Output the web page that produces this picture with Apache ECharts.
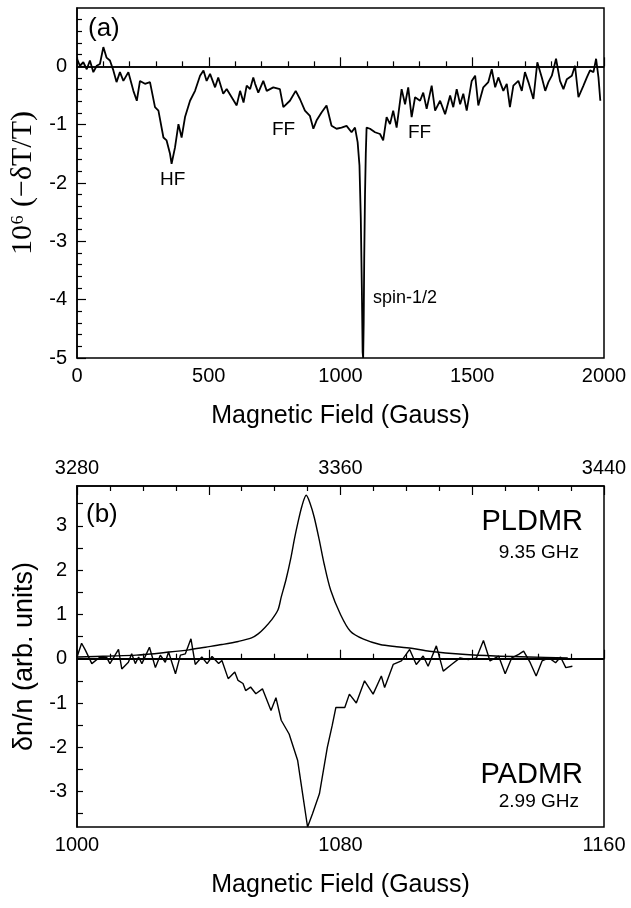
<!DOCTYPE html>
<html><head><meta charset="utf-8">
<script src="https://cdn.jsdelivr.net/npm/echarts@6/dist/echarts.min.js"></script>
<style>html,body{margin:0;padding:0;background:#fff}#c{width:631px;height:908px}</style>
</head><body><div id="c"></div>
<script>
// Panel (a): microwave-induced transmission change vs field
const fieldA = [0,11,24,37,49,62,75,87,100,112,125,138,150,163,176,195,214,227,239,258,277,296,309,328,340,353,359,372,385,397,410,429,448,467,480,492,505,524,536,555,568,587,606,619,632,644,657,669,676,688,707,720,745,770,783,808,830,846,865,884,897,909,928,947,966,985,1004,1023,1042,1055,1065,1072,1077,1081,1084,1086,1088,1090,1093,1096,1099,1112,1131,1150,1162,1175,1188,1200,1213,1232,1245,1257,1270,1283,1302,1314,1327,1346,1359,1378,1397,1416,1428,1441,1454,1466,1479,1498,1511,1523,1542,1561,1574,1587,1599,1618,1631,1643,1656,1675,1688,1700,1713,1732,1747,1764,1777,1789,1802,1818,1833,1846,1859,1878,1890,1903,1922,1935,1947,1960,1970,1979,1986];
const signalA = [0.13,0.01,0.07,-0.05,0.10,-0.10,0.01,0.04,0.33,0.15,0.10,-0.07,-0.27,-0.10,-0.25,-0.10,-0.42,-0.59,-0.25,-0.30,-0.27,-0.70,-0.76,-1.22,-1.27,-1.50,-1.67,-1.39,-0.99,-1.22,-0.87,-0.59,-0.42,-0.16,-0.07,-0.25,-0.13,-0.36,-0.19,-0.47,-0.39,-0.53,-0.67,-0.42,-0.62,-0.33,-0.39,-0.19,-0.30,-0.45,-0.25,-0.42,-0.36,-0.39,-0.70,-0.59,-0.42,-0.56,-0.76,-0.85,-1.07,-0.93,-0.79,-0.67,-1.02,-1.07,-1.05,-1.02,-1.13,-1.05,-1.30,-1.70,-2.60,-3.80,-4.90,-5.00,-4.40,-3.30,-2.20,-1.50,-1.05,-1.07,-1.13,-1.16,-1.27,-0.87,-0.99,-0.76,-1.05,-0.39,-0.65,-0.36,-0.87,-0.53,-0.59,-0.45,-0.73,-0.33,-0.76,-0.59,-0.82,-0.50,-0.70,-0.39,-0.65,-0.47,-0.76,-0.25,-0.16,-0.67,-0.36,-0.27,-0.05,-0.36,-0.19,-0.42,-0.30,-0.70,-0.33,-0.25,-0.42,-0.10,-0.27,-0.56,0.07,-0.19,-0.42,-0.27,-0.16,0.13,-0.25,-0.39,-0.22,-0.16,0.01,-0.53,-0.33,-0.19,-0.07,-0.10,0.13,-0.19,-0.59];

// Panel (b): PLDMR (9.35 GHz) and PADMR (2.99 GHz)
const fieldPL = [1000,1010,1018,1028,1034,1039,1044,1049,1053,1055,1057,1059,1061,1062,1063.5,1065,1066,1067,1068.3,1069.6,1070.8,1072,1073.5,1075,1077,1080,1083,1087,1092,1097,1102,1107,1117,1127,1137,1149];
const valuePL = [0.04,0.06,0.08,0.15,0.20,0.26,0.32,0.39,0.47,0.56,0.70,0.87,1.10,1.39,1.80,2.30,2.70,3.05,3.45,3.69,3.50,3.20,2.70,2.15,1.55,1.00,0.62,0.44,0.32,0.27,0.23,0.17,0.10,0.06,0.04,0.02];
const fieldPA = [1000,1001.4,1002.5,1004.5,1007,1009,1010,1012.6,1013.6,1015.6,1016.6,1017.7,1018.7,1019.7,1022,1023.8,1025.3,1026.8,1027.8,1029.9,1031.4,1032.9,1034.6,1035.9,1037.9,1039.5,1041,1043,1044,1045.9,1047.9,1048.9,1050.4,1051.2,1052.7,1054.3,1056.3,1058.9,1060.4,1062,1064.4,1067,1068.5,1070,1071.5,1073.6,1076,1077.5,1078.6,1081.3,1082.7,1084.8,1087.3,1089.9,1092.4,1093.4,1096,1098.5,1101,1103,1105.1,1106.6,1109.1,1111.2,1113.7,1116.3,1118.8,1121.3,1123.4,1125.4,1128,1130,1132,1134.1,1135.6,1137.6,1139.4,1141.2,1143.3,1145.3,1146.8,1148.4,1150.4];
const valuePA = [0.04,0.35,0.20,-0.11,0.04,0.03,-0.11,0.21,-0.23,-0.08,0.11,-0.11,0.04,-0.11,0.26,-0.20,0.08,-0.08,0.15,-0.34,0.08,0.11,0.45,-0.13,0.04,-0.11,0.05,-0.11,-0.04,-0.45,-0.30,-0.49,-0.56,-0.72,-0.64,-0.79,-0.68,-1.17,-0.88,-1.39,-1.70,-2.30,-3.05,-3.80,-3.50,-3.05,-2.00,-1.50,-1.10,-1.10,-0.80,-1.00,-0.50,-0.80,-0.39,-0.65,-0.13,-0.05,0.21,-0.13,0.06,-0.17,0.29,-0.28,-0.13,0.02,-0.02,0.02,0.41,-0.05,0.06,-0.34,0.02,0.10,0.17,-0.09,-0.39,-0.05,0.02,-0.09,0.04,-0.20,-0.17];

const yTicksA = [0,-1,-2,-3,-4,-5];
const xLabelsB = [1000,1080,1160];
const xLabelsTop = [3280,3360,3440];
const yLabelsB = [-3,-2,-1,0,1,2,3];
const yTicksB = [-3.5,-3,-2.5,-2,-1.5,-1,-0.5,0,0.5,1,1.5,2,2.5,3,3.5];

const zip = (a,b)=>a.map((v,i)=>[v,b[i]]);
const SANS = 'Liberation Sans, Arial, sans-serif';
const K = '#000';
const plain = v => String(v);
const lbl = {color:K, fontFamily:SANS, fontSize:20, formatter:plain};
const axLine = {show:true, lineStyle:{color:K, width:1.5}};
const tick = (len)=>({inside:true, length:len, lineStyle:{color:K, width:1.2}});

const chart = echarts.init(document.getElementById('c'), null, {renderer:'canvas'});
chart.setOption({
  animation:false,
  backgroundColor:'#fff',
  grid:[
    {left:77, top:8, width:527, height:350, show:true, borderColor:K, borderWidth:1.5},
    {left:77, top:486, width:527, height:341, show:true, borderColor:K, borderWidth:1.5}
  ],
  xAxis:[
    {gridIndex:0, type:'value', min:0, max:2000, interval:500,
     axisLine:axLine, splitLine:{show:false}, axisTick:tick(9),
     minorTick:{show:true, splitNumber:5, length:5, lineStyle:{color:K, width:1.2}},
     axisLabel:Object.assign({}, lbl, {margin:8}),
     name:'Magnetic Field (Gauss)', nameLocation:'middle', nameGap:46,
     nameTextStyle:{color:K, fontFamily:SANS, fontSize:25}},
    {gridIndex:1, type:'value', min:1000, max:1160, interval:40, position:'bottom',
     axisLine:axLine, splitLine:{show:false}, axisTick:tick(9),
     minorTick:{show:true, splitNumber:4, length:5, lineStyle:{color:K, width:1.2}},
     axisLabel:Object.assign({}, lbl, {margin:8, customValues:xLabelsB}),
     name:'Magnetic Field (Gauss)', nameLocation:'middle', nameGap:46,
     nameTextStyle:{color:K, fontFamily:SANS, fontSize:25}},
    {gridIndex:1, type:'value', min:3280, max:3440, interval:40, position:'top',
     axisLine:axLine, splitLine:{show:false}, axisTick:tick(9),
     minorTick:{show:true, splitNumber:4, length:5, lineStyle:{color:K, width:1.2}},
     axisLabel:Object.assign({}, lbl, {margin:8, customValues:xLabelsTop})}
  ],
  yAxis:[
    {gridIndex:0, type:'value', min:-5, max:1, interval:1,
     axisLine:axLine, splitLine:{show:false},
     axisTick:Object.assign(tick(9), {customValues:yTicksA}),
     minorTick:{show:true, splitNumber:5, length:5, lineStyle:{color:K, width:1.2}},
     axisLabel:Object.assign({}, lbl, {margin:10, customValues:yTicksA}),
     name:'10\u2076 (\u2212\u03B4T/T)', nameLocation:'middle', nameGap:36, nameRotate:90,
     nameTextStyle:{color:K, fontFamily:'Liberation Serif, Times New Roman, serif', fontSize:30}},
    {gridIndex:1, type:'value', min:-3.8, max:3.9,
     axisLine:axLine, splitLine:{show:false},
     axisTick:Object.assign(tick(6), {customValues:yTicksB}),
     axisLabel:Object.assign({}, lbl, {margin:10, customValues:yLabelsB}),
     name:'\u03B4n/n (arb. units)', nameLocation:'middle', nameGap:38, nameRotate:90,
     nameTextStyle:{color:K, fontFamily:SANS, fontSize:27}}
  ],
  series:[
    {type:'line', xAxisIndex:0, yAxisIndex:0, data:zip(fieldA, signalA), showSymbol:false,
     lineStyle:{color:K, width:1.8}, z:3,
     markLine:{silent:true, symbol:'none', label:{show:false}, lineStyle:{color:K, width:1.5, type:'solid'}, data:[{yAxis:0}]}},
    {type:'line', xAxisIndex:1, yAxisIndex:1, data:zip(fieldPL, valuePL), showSymbol:false, smooth:0.3,
     lineStyle:{color:K, width:1.4}, z:3,
     markLine:{silent:true, symbol:'none', label:{show:false}, lineStyle:{color:K, width:2, type:'solid'}, data:[{yAxis:0}]}},
    {type:'line', xAxisIndex:1, yAxisIndex:1, data:zip(fieldPA, valuePA), showSymbol:false,
     lineStyle:{color:K, width:1.4}, z:3}
  ],
  graphic:[
    {type:'text', left:88, top:16, style:{text:'(a)', font:'26px '+SANS, fill:K}},
    {type:'text', left:160, top:170, style:{text:'HF', font:'19px '+SANS, fill:K}},
    {type:'text', left:272, top:120, style:{text:'FF', font:'19px '+SANS, fill:K}},
    {type:'text', left:408, top:123, style:{text:'FF', font:'19px '+SANS, fill:K}},
    {type:'text', left:373, top:289, style:{text:'spin-1/2', font:'18px '+SANS, fill:K}},
    {type:'text', left:86, top:502, style:{text:'(b)', font:'26px '+SANS, fill:K}},
    {type:'text', right:48, top:507, style:{text:'PLDMR', font:'29px '+SANS, fill:K}},
    {type:'text', right:52, top:543, style:{text:'9.35 GHz', font:'19px '+SANS, fill:K}},
    {type:'text', right:48, top:760, style:{text:'PADMR', font:'29px '+SANS, fill:K}},
    {type:'text', right:52, top:792, style:{text:'2.99 GHz', font:'19px '+SANS, fill:K}}
  ]
});
</script></body></html>
